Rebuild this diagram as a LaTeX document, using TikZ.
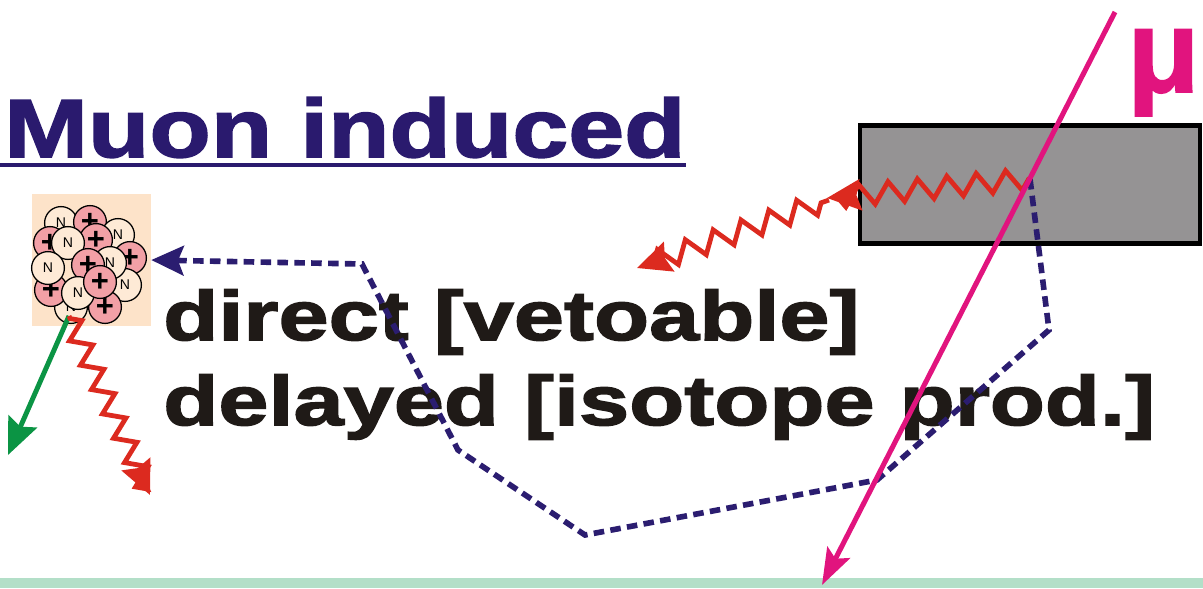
\documentclass[tikz,border=0pt]{standalone}
\usepackage{fontspec}
\setmainfont{Liberation Sans}
\newfontfamily\titlefont{Liberation Sans}[FakeStretch=1.22,BoldFeatures={FakeBold=2}]
\newfontfamily\bodyfont{Liberation Sans}[FakeStretch=1.29,BoldFeatures={FakeBold=2.2}]
\newfontfamily\greekfont{Liberation Sans}[BoldFeatures={FakeBold=1.5}]
\usetikzlibrary{arrows.meta,decorations.pathmorphing}

\definecolor{titlenavy}{HTML}{2A1A6E}
\definecolor{dashnavy}{HTML}{2B1D70}
\definecolor{muonpink}{HTML}{E1147E}
\definecolor{gammared}{HTML}{DC2A1F}
\definecolor{betagreen}{HTML}{0B9444}
\definecolor{slabgray}{HTML}{959394}
\definecolor{peach}{HTML}{FDE3C9}
\definecolor{nucpink}{HTML}{F2A0A6}
\definecolor{nuccream}{HTML}{FEEAD6}
\definecolor{floorgreen}{HTML}{B3DFC8}
\definecolor{inkblack}{HTML}{1F1A17}

\tikzset{
  nucP/.style={circle, draw, line width=0.9pt, fill=nucpink, minimum size=0.82cm, inner sep=0pt,
    font=\bfseries\fontsize{22}{22}\selectfont},
  nucN/.style={circle, draw, line width=0.9pt, fill=nuccream, minimum size=0.82cm, inner sep=0pt,
    font=\fontsize{10}{10}\selectfont},
  gamma/.style={gammared, line width=3.4pt, line join=miter, decorate,
    -{Stealth[length=24pt,width=22pt,inset=3pt]}},
  neutron/.style={dashnavy, line width=4pt, dash pattern=on 7.5pt off 4.5pt,
    -{Stealth[length=23pt,width=21pt,inset=4pt]}},
  label/.style={anchor=base west, inner sep=0pt, text=inkblack,
    font=\bodyfont\bfseries\fontsize{49.7}{50}\selectfont}
}

\begin{document}
\begin{tikzpicture}[x=0.025cm,y=-0.025cm]
\useasboundingbox (0,0) rectangle (1203,588);
%\draw[step=50,gray,very thin] (0,0) grid (1200,588);

% floor
\fill[floorgreen] (0,578) rectangle (1203,588);

% slab hit by the muon
\node[draw, line width=3.4pt, fill=slabgray, minimum width=8.5cm, minimum height=2.95cm,
  inner sep=0pt] (slab) at (1030,184.5) {};

% nucleus
\node[fill=peach, minimum width=2.975cm, minimum height=3.3cm, inner sep=0pt] (nucleus) at (91.5,260) {};
\foreach \x/\y/\t/\s [count=\i] in {61/223/N/N, 90/222/P/+, 118/235/N/N, 130/258/P/+,
    50/243/P/+, 71/307/N/N, 125/285/N/N, 96/240/P/+, 68/243/N/N, 110/263/N/N,
    51/290/P/+, 48/268/N/N, 88/265/P/+, 105/307/P/+, 78/293/N/N, 100/282/P/+}
  \node[nuc\t] (n\i) at (\x,\y) {\s};

% texts
\node[anchor=base west, inner sep=0pt, text=titlenavy,
  font=\titlefont\bfseries\fontsize{58.6}{60}\selectfont] (title) at (4,157) {Muon induced};
\coordinate (ul) at (0,165);
\draw[titlenavy, line width=2.8pt] (ul) -- (ul -| title.east);
\node[label] (direct) at (163,340) {direct [vetoable]};
\node[label] (delayed) at (163,425) {delayed [isotope prod.]};

% muon track and interaction point
\coordinate (muIn) at (1115,12);
\coordinate (muOut) at (822,585);
\coordinate (vertex) at (1030,179);

% neutron path
\coordinate (k1) at (1049,330);
\coordinate (k2) at (877,480);
\coordinate (k3) at (585,535);
\coordinate (k4) at (458,450);
\coordinate (k5) at (362,264);
\draw[neutron] (vertex) -- (k1) -- (k2) -- (k3) -- (k4) -- (k5) -- (nucleus.east);

% gammas
\coordinate (g1) at (827,198);
\coordinate (g1b) at (829,200);
\coordinate (g2) at (637,268);
\draw[gamma, decoration={zigzag, segment length=21pt, amplitude=7.5pt, pre length=1pt, post length=3pt}]
  (vertex) -- (g1);
\draw[gamma, decoration={zigzag, segment length=21pt, amplitude=7.5pt, pre length=6pt, post length=3pt}]
  (g1b) -- (g2);

% decay products
\coordinate (emit) at (69,316);
\coordinate (beta) at (8,455);
\coordinate (g3) at (150,495);
\draw[betagreen, line width=3.5pt, -{Stealth[length=26pt,width=22pt,inset=4pt]}] (emit) -- (beta);
\draw[gamma, decoration={zigzag, segment length=19pt, amplitude=7pt, pre length=2pt, post length=3pt}]
  (emit) -- (g3);

% muon
\draw[muonpink, line width=3.6pt, -{Stealth[length=26pt,width=18pt,inset=5pt]}] (muIn) -- (muOut);
\node[anchor=base west, inner sep=0pt, text=muonpink,
  font=\greekfont\bfseries\fontsize{84}{84}\selectfont] (mu) at (1127,92) {μ};
\end{tikzpicture}
\end{document}
